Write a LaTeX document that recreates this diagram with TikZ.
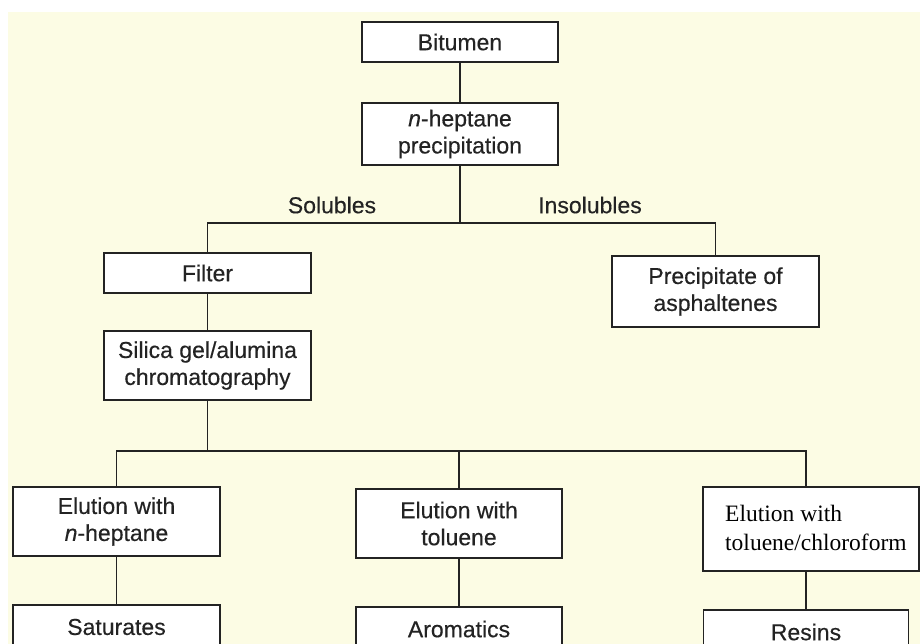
\documentclass[tikz,border=0pt]{standalone}
\usepackage{fontspec}
\setmainfont{Liberation Sans}[FakeBold=0.35,ItalicFeatures={FakeBold=0.35}]
\newfontfamily\timesfont{Liberation Serif}
\definecolor{paper}{RGB}{252,252,228}
\definecolor{ink}{RGB}{35,35,35}
\begin{document}
\begin{tikzpicture}[x=1pt,y=-1pt,
  box/.style={draw=ink,line width=1.4pt,fill=white,inner sep=0pt,align=center,
    font=\fontsize{23}{27}\selectfont,text=ink},
  lbl/.style={font=\fontsize{23}{27}\selectfont,text=ink,inner sep=0pt},
  conn/.style={draw=ink,line width=1.3pt}]
\useasboundingbox (0,0) rectangle (920,644);
\clip (0,0) rectangle (920,644);
\fill[white] (0,0) rectangle (920,644);
\fill[paper] (8,12) rectangle (920,644);

\node[box,minimum width=196,minimum height=40] (bit) at (460,42) {Bitumen};
\node[box,minimum width=196,minimum height=62] (hep) at (460,134) {\textit{n}-heptane\\precipitation};
\node[box,minimum width=207,minimum height=40] (fil) at (207.5,273) {Filter};
\node[box,minimum width=207,minimum height=71] (pre) at (715.5,291.5) {Precipitate of\\asphaltenes};
\node[box,minimum width=207,minimum height=69] (sil) at (207.5,365.5) {Silica gel/alumina\\chromatography};
\node[box,minimum width=207,minimum height=69] (e1) at (116.5,521.5) {Elution with\\\textit{n}-heptane};
\node[box,minimum width=206,minimum height=69] (e2) at (459,523.5) {Elution with\\toluene};
\node[box,minimum width=216,minimum height=84] (e3) at (811,529) {};
\node[anchor=west,align=left,inner sep=0pt,text=black,
  font=\timesfont\fontsize{23.5}{29}\selectfont] (e3t) at (725,528) {Elution with\\toluene/chloroform};
\node[box,minimum width=207,minimum height=44] (sat) at (116.5,627) {Saturates};
\node[box,minimum width=206,minimum height=44] (aro) at (459,629) {Aromatics};
\node[box,minimum width=205,minimum height=44] (res) at (806,632) {Resins};

\node[lbl] (sol) at (332,205) {Solubles};
\node[lbl] (ins) at (590,205) {Insolubles};

\coordinate (j1) at (460,223);
\coordinate (j2) at (207.5,451);
\coordinate (j3) at (806,451);

\draw[conn] (bit) -- (hep);
\draw[conn] (hep) -- (j1);
\draw[conn] (fil.north) |- (j1) -| (pre.north);
\draw[conn] (fil) -- (sil);
\draw[conn] (sil) -- (j2);
\draw[conn] (e1.north) |- (j3) -- (j3 |- e3.north);
\draw[conn] (e2.north) -- (e2.north |- j3);
\draw[conn] (e1) -- (sat);
\draw[conn] (e2) -- (aro);
\draw[conn] (res.north |- e3.south) -- (res.north);
\end{tikzpicture}
\end{document}
